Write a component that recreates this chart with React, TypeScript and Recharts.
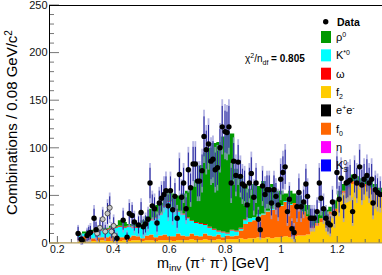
import React from 'react';
import { ComposedChart, Area, Scatter, ErrorBar, XAxis, YAxis } from 'recharts';

// ---- histogram binning (left edges) ----
const BIN_START = 0.272;
const BIN_W = 0.016;

// stacked components (counts per bin), bottom -> top
const f2Vals = [2,2,3,2,2,3,2,2,3,2,3,2,3,3,2,3,3,2,3,3,3,2,3,3,3,4,3,3,4,3,3,4,3,4,4,4,
  5,4,5,5,6,5,6,5,6,6,7,6,
  7,8,8,9,
  15,18,22,25,29,33,44,52,57,62,60,58,59,56,52,48];
const f0Vals = [4,5,4,3,4,3,4,5,3,4,3,4,5,4,3,5,6,4,5,6,4,5,7,5,4,6,5,4,6,5,4,5,3,4,3,4,
  8,16,17,19,22,25,27,30,32,33,36,34,35,28,25,19,3,
  3,4,3,4,3,2,3,2,3,2,2,3,2,2,3];
const kstVals = [2,3,4,6,6,7,8,8,10,11,10,11,8,9,13,13,15,20,22,29,36,29,23,22,19,13,13,13,9,8,7,3,5,2,6,4,
  2,4,4,3,2,1,1,1,1,1,1,1,
  0,0,0,0,0,0,0,0,0,0,0,0,0,0,0,0,0,0,0,0];
const omegaVals = [0,0,0,
  1,1,1,1,1,1,1,1,1,1,1,1,1,1,1,1,1,1,1,1,1,1,1,1,1,1,1,1,1,1,1,1,1,1,1,
  0,0,0,0,0,0,0,0,0,0,0,0,0,0,0,0,0,0,0,0,0,0,0,0,0,0,0,0,0,0,0,0];
const rhoVals = [2,2,2,2,1,2,1,2,2,6,5,2,3,4,5,6,11,13,11,11,11,15,16,21,28,36,44,61,75,83,90,93,100,106,101,65,
  54,36,31,35,30,34,24,26,16,15,8,14,10,14,12,12,10,9,7,7,5,9,9,7,9,7,8,8,8,8,8,7];

// ---- data points ----
const dataM = [0.274,0.285,0.289,0.306,0.312,0.318,0.331,0.338,0.413,0.435,0.449,0.457,0.467,0.475,0.490,0.499,
  0.507,0.515,0.524,0.531,0.539,0.547,0.556,0.564,0.572,0.581,0.588,0.596,0.604,0.612,0.620,0.628,
  0.636,0.644,0.651,0.660,0.668,0.676,0.685,0.693,0.701,0.708,0.717,0.724,0.732,0.740,0.749,0.756,
  0.764,0.772,0.781,0.789,0.799,0.806,0.813,0.821,0.830,0.838,0.846,0.854,0.861,0.869,0.878,0.886,
  0.893,0.902,0.910,0.918,0.925,0.933,0.942,0.949,0.957,0.965,0.974,0.981,0.989,0.998,1.006,1.014,
  1.022,1.029,1.038,1.046,1.056,1.063,1.071,1.080,1.088,1.094,1.104,1.110,1.118,1.128,1.136,1.142,
  1.151,1.160,1.167,1.175,1.183,1.190,1.199,1.207,1.214,1.223,1.232,1.238,1.246,1.255,1.262,1.270,
  1.280,1.288,1.296,1.306,1.314,1.323,1.328,1.336,1.344,1.354];
const dataV = [10,4,3,8,10,11,26,14,5,24,6,31,29,22,19,32,
  17,20,25,63,39,36,21,42,47,51,55,39,55,35,49,26,
  72,48,63,36,77,58,83,83,65,65,76,112,98,104,86,88,
  77,79,100,122,117,116,122,63,86,71,85,70,62,60,40,63,
  73,48,63,25,14,60,51,56,56,42,56,49,40,67,74,80,
  33,46,15,11,38,53,38,43,62,49,26,26,26,33,63,47,
  36,26,21,19,43,31,74,46,68,38,63,64,66,33,70,63,
  80,61,67,71,63,67,42,56,53,51];
const dataErrStat = [7,4,4,6,7,7,10,8,5,10,5,11,11,9,9,11,
  8,9,10,16,12,12,9,13,14,14,15,12,15,12,14,10,
  17,14,16,12,18,15,18,18,16,16,17,21,20,20,19,19,
  18,18,20,22,22,22,22,16,19,17,18,17,16,16,13,16,
  17,14,16,10,8,16,14,15,15,13,15,14,13,16,17,18,
  12,14,8,7,12,15,12,13,16,14,10,10,10,12,16,14,
  12,10,9,9,13,11,17,14,17,12,16,16,16,12,17,16,
  18,16,16,17,16,16,13,15,15,14];
const dataErrTot = [9,6,5,8,9,10,14,11,7,13,7,15,14,12,12,15,
  11,12,13,21,16,16,12,17,18,19,20,16,20,16,19,14,
  23,19,21,16,24,20,24,24,21,21,23,28,26,27,25,25,
  24,24,26,29,29,29,29,21,25,22,24,22,21,21,17,21,
  23,19,21,13,11,21,19,20,20,17,20,19,17,22,23,24,
  15,18,11,10,16,20,16,17,21,19,14,14,14,15,21,18,
  16,14,12,12,17,15,23,18,22,16,21,21,22,15,22,21,
  24,21,22,22,21,22,17,20,20,19];

// open (grey) points
const greyM = [0.342,0.352,0.362,0.371,0.379,0.387,0.393,0.401,0.404];
const greyV = [10,16,25,12,31,37,12,18,8];
const greyErrStat = [7,8,10,7,11,12,7,9,6];
const greyErrTot = [9,11,13,10,15,16,10,12,8];

// ---- axis ticks ----
const xMajor = [0.2,0.4,0.6,0.8,1.0,1.2];
const xTicks = [0.2,0.25,0.3,0.35,0.4,0.45,0.5,0.55,0.6,0.65,0.7,0.75,0.8,0.85,0.9,0.95,1.0,1.05,1.1,1.15,1.2,1.25,1.3,1.35];
const xTickLabels = ['0.2','0.4','0.6','0.8','1','1.2'];
const yTicks = [0,10,20,30,40,50,60,70,80,90,100,110,120,130,140,150,160,170,180,190,200,210,220,230,240,250];
const yMajor = [0,50,100,150,200,250];

const COLORS = {
  rho: '#009900', kst: '#00ffff', omega: '#ff0000', f2: '#ffcc00',
  ee: '#000000', f0: '#ff6600', eta: '#ff00ff', ks: '#0000ff',
};

const FONT = 'Liberation Sans, Arial, Helvetica, sans-serif';

const histRows = f2Vals.map((_, i) => ({
  m: BIN_START + i * BIN_W,
  f2: f2Vals[i], f0: f0Vals[i], kst: kstVals[i], omega: omegaVals[i], rho: rhoVals[i],
}));
const last = f2Vals.length - 1;
histRows.push({
  m: BIN_START + f2Vals.length * BIN_W,
  f2: f2Vals[last], f0: f0Vals[last], kst: kstVals[last], omega: omegaVals[last], rho: rhoVals[last],
});

const dataPts = dataM.map((m, i) => ({ m, v: dataV[i], es: dataErrStat[i], et: dataErrTot[i] }));
const greyPts = greyM.map((m, i) => ({ m, v: greyV[i], es: greyErrStat[i], et: greyErrTot[i] }));

const near = (a: number, b: number) => Math.abs(a - b) < 1e-6;

const XTick = (props: any) => {
  const { x, y, payload } = props;
  const idx = xMajor.findIndex((t) => near(t, payload.value));
  const major = idx >= 0;
  return (
    <g>
      <line x1={x} x2={x} y1={y} y2={y - (major ? 7 : 4)} stroke="#666" strokeWidth={1} />
      {major && (
        <text x={x} y={y + 10} textAnchor="middle" fontSize={10.5} fill="#111" fontFamily={FONT}>
          {xTickLabels[idx]}
        </text>
      )}
    </g>
  );
};

const YTick = (props: any) => {
  const { x, y, payload } = props;
  const major = yMajor.some((t) => near(t, payload.value));
  return (
    <g>
      <line x1={x} x2={x + (major ? 10 : 5)} y1={y} y2={y} stroke="#777" strokeWidth={1} />
      {major && (
        <text x={x - 1.5} y={y} dy="0.35em" textAnchor="end" fontSize={11} fill="#111" fontFamily={FONT}>
          {String(payload.value)}
        </text>
      )}
    </g>
  );
};

const DataDot = (p: any) => <circle cx={p.cx} cy={p.cy} r={2.7} fill="#000" />;
const GreyDot = (p: any) => <circle cx={p.cx} cy={p.cy} r={2.5} fill="#c8c8c8" stroke="#333" strokeWidth={0.8} />;

const legendRows: { color: string; label: React.ReactNode }[] = [
  { color: COLORS.rho, label: <>ρ<tspan dy={-4} fontSize={7}>0</tspan></> },
  { color: COLORS.kst, label: <>K<tspan dy={-4} fontSize={7}>*0</tspan></> },
  { color: COLORS.omega, label: <>ω</> },
  { color: COLORS.f2, label: <>f<tspan dy={3} fontSize={7}>2</tspan></> },
  { color: COLORS.ee, label: <>e<tspan dy={-4} fontSize={7}>+</tspan><tspan dy={4}>e</tspan><tspan dy={-4} fontSize={7}>-</tspan></> },
  { color: COLORS.f0, label: <>f<tspan dy={3} fontSize={7}>0</tspan></> },
  { color: COLORS.eta, label: <>η</> },
  { color: COLORS.ks, label: <>K<tspan dy={-4} fontSize={7}>0</tspan><tspan dx={-4} dy={7} fontSize={7}>S</tspan></> },
];

export default function App() {
  return (
    <div style={{ position: 'absolute', left: 0, top: 0, width: 382, height: 275, background: '#fff' }}>
      <ComposedChart
        width={382}
        height={275}
        data={histRows}
        margin={{ top: 5, right: 0, bottom: 0, left: 0 }}
      >
        <XAxis
          type="number"
          dataKey="m"
          domain={[0.17, 1.36]}
          allowDataOverflow
          ticks={xTicks}
          interval={0}
          tick={<XTick />}
          tickLine={false}
          tickSize={0}
          tickMargin={0}
          axisLine={false}
          height={32}
        />
        <YAxis
          type="number"
          domain={[0, 250]}
          allowDataOverflow
          ticks={yTicks}
          interval={0}
          tick={<YTick />}
          tickLine={false}
          tickSize={0}
          tickMargin={0}
          axisLine={false}
          width={49}
        />
        <Area type="stepAfter" dataKey="f2" stackId="s" fill={COLORS.f2} fillOpacity={1} stroke="none" dot={false} activeDot={false} isAnimationActive={false} />
        <Area type="stepAfter" dataKey="f0" stackId="s" fill={COLORS.f0} fillOpacity={1} stroke="none" dot={false} activeDot={false} isAnimationActive={false} />
        <Area type="stepAfter" dataKey="kst" stackId="s" fill={COLORS.kst} fillOpacity={1} stroke="none" dot={false} activeDot={false} isAnimationActive={false} />
        <Area type="stepAfter" dataKey="omega" stackId="s" fill={COLORS.omega} fillOpacity={1} stroke="none" dot={false} activeDot={false} isAnimationActive={false} />
        <Area type="stepAfter" dataKey="rho" stackId="s" fill={COLORS.rho} fillOpacity={1} stroke="none" dot={false} activeDot={false} isAnimationActive={false} />
        <Scatter data={greyPts} dataKey="v" shape={GreyDot} isAnimationActive={false}>
          <ErrorBar dataKey="et" direction="y" width={0} stroke="#9d9ddc" strokeOpacity={0.75} strokeWidth={1.8} />
          <ErrorBar dataKey="es" direction="y" width={0} stroke="#22229c" strokeWidth={1} />
        </Scatter>
        <Scatter data={dataPts} dataKey="v" shape={DataDot} isAnimationActive={false}>
          <ErrorBar dataKey="et" direction="y" width={0} stroke="#9d9ddc" strokeOpacity={0.75} strokeWidth={1.8} />
          <ErrorBar dataKey="es" direction="y" width={0} stroke="#22229c" strokeWidth={1} />
        </Scatter>
      </ComposedChart>

      <svg
        width={382}
        height={275}
        style={{ position: 'absolute', left: 0, top: 0, pointerEvents: 'none' }}
        fontFamily={FONT}
      >
        {/* frame */}
        <line x1={49.5} y1={5.5} x2={382} y2={5.5} stroke="#000" strokeWidth={1} />
        <line x1={49.5} y1={5} x2={49.5} y2={243} stroke="#000" strokeWidth={1} />
        <line x1={49} y1={242.8} x2={382} y2={242.8} stroke="#b09a5a" strokeWidth={1.2} />

        {/* legend */}
        <circle cx={325.7} cy={21.7} r={2.7} fill="#000" />
        <text x={337} y={25.5} fontSize={10.5} fontWeight="bold" fill="#000">Data</text>
        {legendRows.map((r, i) => {
          const top = 31 + i * 18.35;
          return (
            <g key={i}>
              <rect x={321} y={top} width={10} height={12} fill={r.color} />
              <text x={336} y={top + 10} fontSize={11} fill="#000">{r.label}</text>
            </g>
          );
        })}

        {/* chi2 */}
        <text x={245} y={61.5} fontSize={10} fill="#000">
          χ<tspan dy={-4} fontSize={7}>2</tspan><tspan dy={4}>/n</tspan><tspan dy={3} fontSize={7}>df</tspan>
          <tspan dy={-3} fontWeight="bold"> = 0.805</tspan>
        </text>

        {/* axis titles */}
        <text transform="translate(16.5,122.5) rotate(-90)" textAnchor="middle" fontSize={15} fill="#000">
          Combinations / 0.08 GeV/c<tspan dy={-5} fontSize={10}>2</tspan>
        </text>
        <text x={157} y={268.2} fontSize={14.5} fill="#000">
          m<tspan dy={3} fontSize={9.5}>inv</tspan><tspan dy={-3}> (π</tspan><tspan dy={-5} fontSize={9.5}>+</tspan>
          <tspan dy={5}> π</tspan><tspan dy={-5} fontSize={9.5}>-</tspan><tspan dy={5}>) [GeV]</tspan>
        </text>
      </svg>
    </div>
  );
}
